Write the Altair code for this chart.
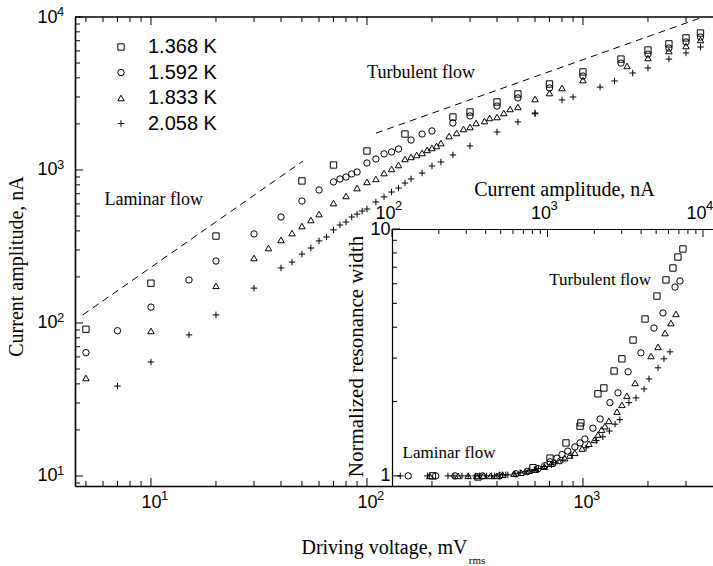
import altair as alt
import pandas as pd

SANS = "Liberation Sans"
SERIF = "Liberation Serif"

series_names = ["1.368 K", "1.592 K", "1.833 K", "2.058 K"]

# ---- main panel: driving voltage (mV rms) -> current amplitude (nA)
sq_v = [5, 10, 20, 50, 70, 100, 150, 250, 300, 400, 500, 700, 1000, 1500, 2000, 2500, 3000, 3500]
sq_i = [91, 182, 370, 848, 1078, 1331, 1718, 2220, 2394, 2783, 3141, 3648, 4377, 5309, 6084, 6672, 7295, 7854]

ci_v = [5, 7, 10, 15, 20, 30, 40, 50, 60, 70, 75, 80, 85, 90, 100, 110, 120, 130, 140, 160, 180, 200,
        250, 300, 400, 500, 700, 1000, 1500, 2000, 2500, 3000, 3500]
ci_i = [64, 89, 127, 191, 254, 382, 493, 627, 740, 836, 874, 900, 942, 970, 1111, 1180, 1274, 1312, 1371,
        1570, 1718, 1800, 2028, 2256, 2618, 2958, 3436, 4113, 5000, 5727, 6270, 6866, 7396]

tr_v = [5, 10, 20, 30, 35, 40, 45, 50, 55, 60, 70, 80, 90, 100, 110, 120, 130, 140, 150, 160, 170, 180,
        190, 200, 210, 220, 240, 260, 280, 300, 320, 350, 370, 400, 430, 460, 500, 600, 700, 800, 1000,
        1600, 2000, 2500, 3000, 3500]
tr_i = [43.7, 88.7, 175, 266, 309, 349, 387, 430, 471, 515, 608, 676, 762, 836, 874, 955, 1016, 1078,
        1180, 1217, 1254, 1292, 1353, 1393, 1436, 1500, 1667, 1746, 1854, 1911, 2028, 2090, 2188, 2220,
        2358, 2505, 2583, 2911, 3184, 3436, 3873, 4786, 5395, 5994, 6462, 7079]

pl_v = [7, 10, 15, 20, 30, 40, 45, 50, 55, 60, 65, 70, 75, 80, 85, 90, 95, 100, 110, 120, 130, 140, 150,
        160, 180, 200, 220, 250, 300, 400, 500, 600, 600, 800, 900, 1200, 1400, 1700, 2000, 2500, 3000, 3500]
pl_i = [38.7, 55.6, 83.6, 113, 169, 229, 250, 282, 309, 344, 365, 406, 437, 457, 493, 515, 539, 556, 618,
        667, 718, 762, 822, 874, 955, 1062, 1128, 1254, 1436, 1771, 2061, 2358, 2330, 2871, 3000, 3483,
        3819, 4305, 4645, 5309, 5821, 6368]

# ---- inset: current amplitude (nA) -> normalized resonance width
sq_in_i = [182, 357, 807, 1038, 1315, 1620, 1640, 2110, 2305, 2680, 3010, 3550, 4240, 5060, 5780, 6410, 6900, 7430]
sq_in_w = [1.00, 0.99, 1.08, 1.18, 1.36, 1.59, 1.64, 2.15, 2.27, 2.66, 2.98, 3.55, 4.32, 5.35, 6.22, 6.95, 7.70, 8.30]

ci_in_i = [127, 191, 254, 382, 493, 627, 740, 870, 960, 1040, 1150, 1240, 1350, 1500, 1620, 1740, 1960,
           2180, 2520, 2840, 3300, 3990, 4840, 5530, 6610, 7110]
ci_in_w = [1.00, 1.00, 1.00, 1.00, 1.00, 1.02, 1.04, 1.07, 1.10, 1.14, 1.18, 1.22, 1.26, 1.31, 1.36, 1.41,
           1.56, 1.70, 1.98, 2.17, 2.64, 3.15, 3.97, 4.57, 5.82, 6.16]

tr_in_i = [175, 266, 309, 349, 387, 430, 471, 515, 608, 676, 762, 836, 955, 1060, 1180, 1290, 1390, 1500,
           1670, 1850, 2000, 2110, 2230, 2340, 2480, 2800, 3010, 3240, 3660, 4630, 5140, 5700, 6220, 6700]
tr_in_w = [1.00, 1.00, 1.00, 1.00, 1.00, 1.00, 1.00, 1.01, 1.02, 1.03, 1.05, 1.06, 1.09, 1.12, 1.15, 1.18,
           1.21, 1.24, 1.29, 1.35, 1.40, 1.47, 1.54, 1.59, 1.67, 1.82, 1.94, 2.11, 2.38, 3.06, 3.33, 3.79,
           4.16, 4.53]

pl_in_i = [113, 169, 229, 250, 282, 309, 344, 365, 406, 437, 457, 493, 515, 539, 556, 618, 667, 718, 762,
           822, 874, 955, 1062, 1128, 1254, 1436, 1771, 2061, 2270, 2500, 2720, 2920, 3340, 3710, 4180,
           4500, 5140, 5610, 6140]
pl_in_w = [1.00, 1.00, 1.00, 1.00, 1.00, 1.00, 1.00, 1.00, 1.00, 1.00, 1.00, 1.01, 1.01, 1.01, 1.01, 1.02,
           1.03, 1.04, 1.05, 1.06, 1.07, 1.09, 1.11, 1.13, 1.16, 1.21, 1.30, 1.39, 1.44, 1.52, 1.62, 1.69,
           1.98, 2.07, 2.25, 2.47, 2.74, 2.98, 3.18]

# guide lines (dashed)
lam_x = [4.84, 50.6]
lam_y = [113, 1145]
turb_x = [110, 3600]
turb_y = [1740, 10000]

# tick values
main_x_major = [10, 100, 1000]
main_x_minor = [5, 6, 7, 8, 9, 20, 30, 40, 50, 60, 70, 80, 90, 200, 300, 400, 500, 600, 700, 800, 900, 2000, 3000]
main_y_major = [10, 100, 1000, 10000]
main_y_minor = [9, 20, 30, 40, 50, 60, 70, 80, 90, 200, 300, 400, 500, 600, 700, 800, 900,
                2000, 3000, 4000, 5000, 6000, 7000, 8000, 9000]
in_x_major = [100, 1000, 10000]
in_x_minor = [200, 300, 400, 500, 600, 700, 800, 900, 2000, 3000, 4000, 5000, 6000, 7000, 8000, 9000]
in_y_major = [1, 10]
in_y_minor = [2, 3, 4, 5, 6, 7, 8, 9]


def long(xs, ys):
    rows = []
    for n, xl, yl in zip(series_names, xs, ys):
        for a, b in zip(xl, yl):
            rows.append({"series": n, "x": a, "y": b})
    return pd.DataFrame(rows)


main_df = long([sq_v, ci_v, tr_v, pl_v], [sq_i, ci_i, tr_i, pl_i])
inset_df = long([sq_in_i, ci_in_i, tr_in_i, pl_in_i], [sq_in_w, ci_in_w, tr_in_w, pl_in_w])
guide_df = pd.DataFrame({
    "line": ["lam", "lam", "turb", "turb"],
    "x": lam_x + turb_x,
    "y": lam_y + turb_y,
})

W, H = 638, 469
IN_LEFT, IN_TOP = 317, 212
MAJ, MIN = 8, 5
YPAD = 18          # gap between main y axis line and the right edge of "10"
LBL, SUP = 18, 13  # tick label / exponent font sizes
IN_SHIFT = -7      # inset top labels sit a little left of their ticks

xs_main = alt.Scale(type="log", domain=[4.45, 4000], nice=False)
ys_main = alt.Scale(type="log", domain=[8.6, 10000], nice=False)
xs_in = alt.Scale(type="log", domain=[100, 11600], range=[IN_LEFT, W], nice=False)
ys_in = alt.Scale(type="log", domain=[0.91, 10], range=[H, IN_TOP], nice=False)

PLUS = "M-1,0H1M0,-1V1"
shape_scale = alt.Scale(domain=series_names, range=["square", "circle", "triangle-up", PLUS])
size_scale = alt.Scale(domain=series_names, range=[40, 42, 44, 64])

common_axis = dict(ticks=False, tickSize=0, grid=False, domainColor="black", labelFont=SANS,
                   labelFontSize=LBL, labelColor="black", labelFlush=False, labelOverlap=False,
                   titleFont=SERIF, titleFontWeight="normal", titleColor="black",
                   titleBaseline="alphabetic", titleAlign="center")

ax_main_x = alt.Axis(orient="bottom", values=main_x_major, labelExpr="'10'", domainWidth=1.6,
                     labelPadding=7, title="Driving voltage, mV", titleFontSize=20,
                     titleX=309, titleY=67, **common_axis)
ax_main_y = alt.Axis(orient="left", values=main_y_major, labelExpr="'10'", domainWidth=1.6,
                     labelPadding=YPAD, title="Current amplitude, nA", titleFontSize=20,
                     titleX=-53, titleY=249, titleAngle=270, **common_axis)
ax_in_x = alt.Axis(orient="top", offset=-IN_TOP, values=in_x_major, labelExpr="'10'", domainWidth=1.2,
                   labelPadding=7, labelOffset=IN_SHIFT, title="Current amplitude, nA", titleFontSize=20,
                   titleX=489, titleY=-34, **common_axis)
ax_in_y = alt.Axis(orient="left", offset=-IN_LEFT, values=in_y_major,
                   labelExpr="datum.value == 1 ? '1' : '10'", domainWidth=1.2,
                   labelPadding=2, title="Normalized resonance width", titleFontSize=21,
                   titleX=-30, titleY=339, titleAngle=270, **common_axis)

legend = alt.Legend(title=None, orient="none", legendX=36, legendY=20, direction="vertical",
                    labelFont=SANS, labelFontSize=20, labelColor="black",
                    symbolStrokeColor="black", symbolStrokeWidth=1, symbolFillColor="transparent",
                    rowPadding=5.5, labelOffset=17)

pt_style = dict(filled=False, color="black", strokeWidth=1, opacity=1)
EXP = "format(round(log(datum.v) / LN10), 'd')"


def build(xs, ys, ax_x, ax_y):
    """Helpers bound to one coordinate system (scales + axes shared by every layer)."""

    def X(field="x"):
        return alt.X(f"{field}:Q", scale=xs, axis=ax_x)

    def Y(field="y"):
        return alt.Y(f"{field}:Q", scale=ys, axis=ax_y)

    def xticks(vals, y0, length):
        return alt.Chart(pd.DataFrame({"v": vals})).mark_rule(color="black", strokeWidth=1).encode(
            x=X("v"), y=alt.value(y0), y2=alt.value(y0 + length))

    def yticks(vals, x0, length):
        return alt.Chart(pd.DataFrame({"v": vals})).mark_rule(color="black", strokeWidth=1).encode(
            y=Y("v"), x=alt.value(x0), x2=alt.value(x0 + length))

    def xexp(vals, y0, dx):
        return alt.Chart(pd.DataFrame({"v": vals})).transform_calculate(e=EXP).mark_text(
            font=SANS, fontSize=SUP, color="black", align="left", baseline="top", dx=dx
        ).encode(x=X("v"), y=alt.value(y0), text="e:N")

    def yexp(vals, x0, dy):
        return alt.Chart(pd.DataFrame({"v": vals})).transform_calculate(e=EXP).mark_text(
            font=SANS, fontSize=SUP, color="black", align="left", baseline="top", dy=dy
        ).encode(y=Y("v"), x=alt.value(x0), text="e:N")

    def label(text, x, y, size, align="center", baseline="middle"):
        df = pd.DataFrame({"t": [text], "x": [x], "y": [y]})
        return alt.Chart(df).mark_text(
            font=SERIF, fontSize=size, color="black", align=align, baseline=baseline
        ).encode(x=X(), y=Y(), text="t:N")

    def points(df):
        return alt.Chart(df).mark_point(**pt_style).encode(
            x=X(), y=Y(),
            shape=alt.Shape("series:N", scale=shape_scale, legend=legend),
            size=alt.Size("series:N", scale=size_scale, legend=legend),
        )

    return X, Y, xticks, yticks, xexp, yexp, label, points


X, Y, m_xticks, m_yticks, m_xexp, m_yexp, m_label, m_points = build(xs_main, ys_main, ax_main_x, ax_main_y)

guides = alt.Chart(guide_df).mark_line(color="black", strokeWidth=1, strokeDash=[7, 5]).encode(
    x=X(), y=Y(), detail="line:N")

top_border = alt.Chart(pd.DataFrame({"a": [0]})).mark_rule(color="black", strokeWidth=1.6).encode(
    x=alt.value(0), x2=alt.value(W), y=alt.value(0))

main = alt.layer(
    m_points(main_df),
    guides,
    m_xticks(main_x_major, H, -MAJ),
    m_xticks(main_x_minor, H, -MIN),
    m_xticks(main_x_major, 0, MAJ),
    m_xticks(main_x_minor, 0, MIN),
    m_yticks(main_y_major, 0, MAJ),
    m_yticks(main_y_minor, 0, MIN),
    m_xexp(main_x_major, H + 4, 10),
    m_yexp(main_y_major, -YPAD, -11),
    top_border,
    m_label("Laminar flow", 10.3, 637, 18),
    m_label("Turbulent flow", 178, 4305, 18),
    m_label("rms", 296, 2.66, 11, align="left", baseline="alphabetic"),
)

Xi, Yi, i_xticks, i_yticks, i_xexp, i_yexp, i_label, i_points = build(xs_in, ys_in, ax_in_x, ax_in_y)

inset = alt.layer(
    i_points(inset_df),
    i_xticks(in_x_major, IN_TOP, MAJ),
    i_xticks(in_x_minor, IN_TOP, MIN),
    i_yticks(in_y_major, IN_LEFT, MAJ),
    i_yticks(in_y_minor, IN_LEFT, MIN),
    i_xexp(in_x_major, IN_TOP - 29, 10 + IN_SHIFT),
    i_label("Turbulent flow", 2180, 6.2, 17),
    i_label("Laminar flow", 233, 1.24, 17),
)

chart = alt.layer(main, inset).resolve_scale(x="independent", y="independent").properties(
    width=W, height=H,
    padding={"left": 75, "top": 17, "right": 0, "bottom": 80},
    autosize=alt.AutoSizeParams(type="none"),
    background="white",
).configure_view(stroke=None)

chart.save("out.html", embed_options={"renderer": "svg", "actions": False})
